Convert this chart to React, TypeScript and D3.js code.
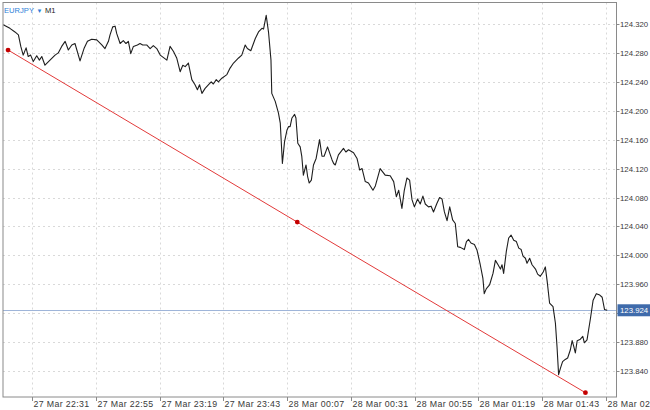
import React from "react";
import * as d3 from "d3";

// ---- data ----
const symbol = "EURJPY";
const timeframe = "M1";
const startTime = new Date(2023, 2, 27, 22, 20);
const totalMinutes = 231;

const minutes = [
  0.1, 2.6, 4.5, 5.8, 6.7, 7.6, 8.7, 9.5, 10.4, 11.4, 12.7, 13.7, 14.6, 15.8, 17.7, 19.6, 20.8, 22.1, 23.4, 24.6,
  25.9, 27.1, 29.0, 30.5, 31.8, 33.4, 35.3, 37.2, 38.4, 39.7, 40.3, 41.3, 42.2, 42.8, 44.1, 45.3, 46.3, 47.2, 48.1, 49.1,
  50.6, 51.6, 52.6, 54.1, 55.4, 56.6, 57.9, 59.2, 61.7, 62.9, 64.2, 65.4, 66.7, 67.7, 68.6, 69.8, 71.1, 72.3, 73.2, 74.0,
  74.9, 76.1, 77.4, 78.4, 79.2, 80.3, 81.1, 82.4, 84.3, 85.5, 86.8, 88.7, 89.9, 91.2, 92.0, 93.3, 95.0, 96.2, 97.5, 98.1,
  99.1, 100.0, 100.9, 101.2, 102.5, 103.7, 104.4, 105.2, 106.0, 106.9, 107.5, 108.1, 108.8, 109.8, 110.3, 111.0, 111.9, 112.5, 113.1, 114.1,
  114.7, 115.3, 116.1, 116.9, 117.9, 119.2, 120.1, 120.9, 122.2, 123.9, 124.5, 125.1, 126.3, 128.2, 129.1, 130.1, 132.0, 133.3, 134.3, 135.2,
  136.4, 137.6, 139.3, 140.2, 142.0, 143.9, 145.8, 147.1, 148.1, 149.0, 150.2, 151.1, 152.1, 153.1, 154.0, 154.9, 156.1, 157.1, 158.1, 159.0,
  160.2, 161.2, 162.1, 163.4, 164.4, 165.3, 166.2, 167.2, 168.2, 169.3, 170.3, 171.2, 172.2, 173.7, 174.5, 175.3, 176.2, 177.5, 178.5, 179.7,
  180.7, 181.2, 182.0, 183.2, 184.5, 185.4, 186.4, 187.3, 187.9, 188.5, 189.5, 190.4, 191.3, 192.3, 193.3, 194.2, 195.1, 195.8, 196.7, 197.3,
  198.3, 199.2, 200.5, 201.3, 202.3, 203.4, 204.2, 204.9, 205.8, 207.1, 208.0, 208.6, 209.2, 209.9, 210.7, 211.7, 212.6, 213.6, 214.3, 214.9,
  215.5, 216.2, 217.4, 218.3, 218.9, 219.9, 221.2, 222.2, 223.4, 224.7, 225.6, 226.5, 227.5,
];

const prices = [
  124.319, 124.314, 124.309, 124.305, 124.289, 124.277, 124.287, 124.275, 124.277, 124.268, 124.276, 124.27, 124.275, 124.263, 124.27, 124.277, 124.28, 124.289, 124.296, 124.284,
  124.291, 124.293, 124.269, 124.286, 124.296, 124.299, 124.298, 124.291, 124.286, 124.296, 124.305, 124.316, 124.317, 124.307, 124.293, 124.297, 124.293, 124.296, 124.279, 124.289,
  124.291, 124.293, 124.291, 124.291, 124.286, 124.29, 124.286, 124.277, 124.27, 124.289, 124.282, 124.273, 124.254, 124.263, 124.261, 124.266, 124.243, 124.236, 124.229, 124.236,
  124.224, 124.231, 124.236, 124.24, 124.237, 124.243, 124.24, 124.245, 124.25, 124.259, 124.266, 124.273, 124.277, 124.291, 124.286, 124.283, 124.3, 124.309, 124.314, 124.313,
  124.332, 124.308, 124.27, 124.224, 124.213, 124.197, 124.183, 124.127, 124.157, 124.173, 124.178, 124.178, 124.19, 124.195, 124.19, 124.155, 124.15, 124.137, 124.111, 124.125,
  124.109, 124.1, 124.104, 124.125, 124.134, 124.16, 124.137, 124.137, 124.15, 124.132, 124.127, 124.125, 124.139, 124.148, 124.143, 124.146, 124.142, 124.134, 124.118, 124.12,
  124.102, 124.1, 124.09, 124.096, 124.12, 124.111, 124.11, 124.102, 124.081, 124.09, 124.065, 124.09, 124.107, 124.104, 124.077, 124.067, 124.078, 124.071, 124.082, 124.071,
  124.067, 124.068, 124.06, 124.072, 124.08, 124.078, 124.06, 124.048, 124.067, 124.049, 124.044, 124.012, 124.011, 124.008, 124.019, 124.022, 124.017, 124.015, 124.007, 123.987,
  123.968, 123.947, 123.954, 123.959, 123.975, 123.993, 123.987, 123.981, 123.987, 123.975, 124.005, 124.024, 124.028, 124.021, 124.019, 124.01, 124.008, 123.999, 123.996, 123.989,
  123.996, 123.987, 123.981, 123.974, 123.971, 123.977, 123.984, 123.964, 123.934, 123.929, 123.906, 123.874, 123.835, 123.844, 123.853, 123.856, 123.858, 123.869, 123.882, 123.874,
  123.865, 123.882, 123.884, 123.888, 123.879, 123.883, 123.913, 123.938, 123.947, 123.945, 123.942, 123.925, 123.924,
];

const trendMinutes = [1.9, 110.8, 219.3];
const trendPrices = [124.284, 124.046, 123.81];
const lastPrice = 123.924;

const priceTicks = [
  124.32, 124.28, 124.24, 124.2, 124.16, 124.12, 124.08, 124.04, 124.0, 123.96, 123.92, 123.88, 123.84,
];
const timeTickMinutes = [11, 35, 59, 83, 107, 131, 155, 179, 203, 227];

// ---- layout ----
const W = 650;
const H = 410;
const left = 3;
const right = 616.5;
const top = 2.5;
const bottom = 397;
const FONT = "'Liberation Sans', Arial, Helvetica, sans-serif";

const toDate = (m: number) => new Date(startTime.getTime() + m * 60000);

export default function App() {
  const x = d3
    .scaleTime()
    .domain([startTime, toDate(totalMinutes)])
    .range([left, right]);
  const y = d3.scaleLinear().domain([123.84, 124.32]).range([371, 24]);
  const fmt = d3.timeFormat("%-d %b %H:%M");

  const pts = minutes.map((m, i) => [toDate(m), prices[i]] as [Date, number]);
  const line = d3
    .line<[Date, number]>()
    .x((d) => x(d[0]))
    .y((d) => y(d[1]));
  const trend = trendMinutes.map((m, i) => [toDate(m), trendPrices[i]] as [Date, number]);

  const ly = y(lastPrice);

  return (
    <svg
      width={W}
      height={H}
      style={{ position: "absolute", left: 0, top: 0, background: "#fff" }}
      fontFamily={FONT}
    >
      <defs>
        <clipPath id="plot">
          <rect x={left} y={top} width={right - left} height={bottom - top} />
        </clipPath>
      </defs>
      <rect x={0} y={0} width={W} height={H} fill="#fff" />

      {/* grid */}
      <g stroke="#d9d9d9" strokeWidth={1} strokeDasharray="2,3">
        {priceTicks.map((p) => (
          <line key={"h" + p} x1={left} x2={right} y1={Math.round(y(p)) + 0.5} y2={Math.round(y(p)) + 0.5} />
        ))}
        {timeTickMinutes.map((m) => {
          const xx = Math.round(x(toDate(m))) + 0.5;
          return <line key={"v" + m} x1={xx} x2={xx} y1={top} y2={bottom} />;
        })}
      </g>

      {/* last price line */}
      <line x1={left} x2={right} y1={Math.round(ly) + 0.5} y2={Math.round(ly) + 0.5} stroke="#9fb5d9" strokeWidth={1} />

      {/* price line */}
      <g clipPath="url(#plot)">
        <path d={line(pts) || ""} fill="none" stroke="#1e1e1e" strokeWidth={1.1} strokeLinejoin="round" />
        <path d={line(trend) || ""} fill="none" stroke="#e23a3a" strokeWidth={1} />
      </g>
      {trend.map((d, i) => (
        <circle key={"t" + i} cx={x(d[0])} cy={y(d[1])} r={2.4} fill="#c40000" />
      ))}

      {/* frame */}
      <rect x={left} y={top} width={right - left} height={bottom - top} fill="none" stroke="#8a8a8a" strokeWidth={1} />

      {/* y axis */}
      <g fontSize={7.8} fill="#3a3a3a">
        {priceTicks.map((p) => {
          const yy = Math.round(y(p)) + 0.5;
          return (
            <g key={"yl" + p}>
              <line x1={right} x2={right + 3} y1={yy} y2={yy} stroke="#8a8a8a" />
              <text x={right + 3.5} y={yy} dy="0.35em">
                {p.toFixed(3)}
              </text>
            </g>
          );
        })}
      </g>

      {/* last price box */}
      <rect x={right + 1} y={ly - 6} width={W - right} height={12} fill="#3f6bab" />
      <text x={right + 3.5} y={ly} dy="0.35em" fontSize={7.8} fill="#fff">
        {lastPrice.toFixed(3)}
      </text>

      {/* x axis */}
      <g fontSize={8.8} fill="#3a3a3a" letterSpacing={0.35}>
        {timeTickMinutes.map((m) => {
          const xx = Math.round(x(toDate(m))) + 0.5;
          return (
            <g key={"xl" + m}>
              <line x1={xx} x2={xx} y1={bottom} y2={bottom + 4} stroke="#8a8a8a" />
              <text x={xx + 1} y={407}>
                {fmt(toDate(m))}
              </text>
            </g>
          );
        })}
      </g>

      {/* title */}
      <text x={4} y={12.5} fontSize={7.6}>
        <tspan fill="#2f7fd8">{symbol}</tspan>
        <tspan fill="#2f7fd8" dx={2.5} fontSize={6}>
          ▼
        </tspan>
        <tspan fill="#222" dx={2.5}>
          {timeframe}
        </tspan>
      </text>
    </svg>
  );
}
